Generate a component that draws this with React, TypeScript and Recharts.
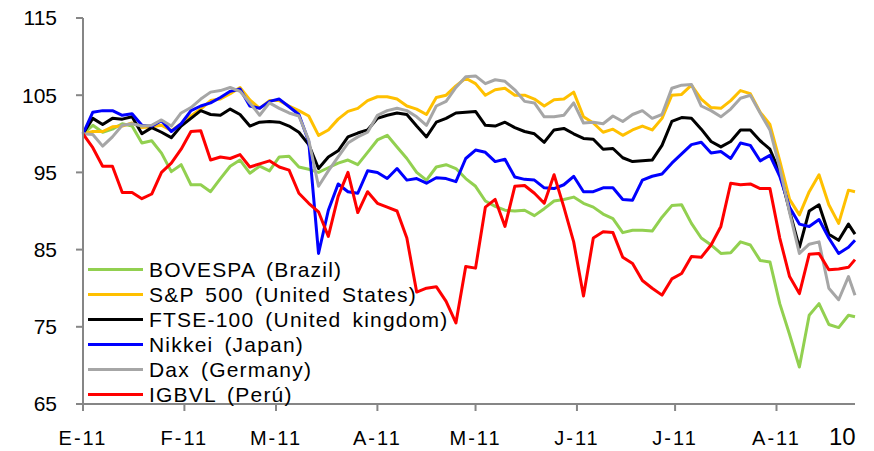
import { LineChart, Line, XAxis, YAxis } from "recharts";

// calendar days since 1 Jan 2011 (sampled every 3 days)
const days = [
  0, 3, 6, 9, 12, 15, 18, 21, 24, 27, 30, 33, 36, 39, 42, 45, 48, 51, 54, 57,
  60, 63, 66, 69, 72, 75, 78, 81, 84, 87, 90, 93, 96, 99, 102, 105, 108, 111, 114, 117,
  120, 123, 126, 129, 132, 135, 138, 141, 144, 147, 150, 153, 156, 159, 162, 165, 168, 171, 174, 177,
  180, 183, 186, 189, 192, 195, 198, 201, 204, 207, 210, 213, 216, 219, 222, 225, 228, 231, 234, 236,
];

const bovespa = [
  100, 101.1, 100.2, 100.6, 101.3, 101.0, 98.8, 99.1, 97.5, 95.1, 96.0, 93.4, 93.4, 92.5, 94.2, 95.8, 96.6, 94.9, 95.8, 95.2,
  97.0, 97.1, 95.7, 95.4, 95.0, 95.6, 96.2, 96.6, 96.0, 97.6, 99.2, 99.8, 98.3, 96.8, 95.0, 94.0, 95.7, 96.0, 95.5, 94.2,
  93.2, 91.3, 90.6, 90.1, 90.0, 90.1, 89.4, 90.3, 91.3, 91.5, 91.8, 91.0, 90.5, 89.6, 89.0, 87.2, 87.5, 87.5, 87.4, 89.2,
  90.7, 90.8, 88.4, 86.5, 85.6, 84.5, 84.6, 86.0, 85.6, 83.6, 83.4, 78.0, 74.0, 69.8, 76.5, 78.0, 75.3, 74.9, 76.5, 76.3,
];

const sp500 = [
  100, 100.3, 100.3, 100.9, 101.0, 101.4, 100.8, 100.9, 101.1, 100.4, 101.3, 102.3, 103.2, 104.3, 104.5, 105.2, 106.0, 104.4, 103.3, 104.3,
  104.3, 103.6, 103.0, 102.3, 99.8, 100.5, 101.9, 102.9, 103.3, 104.3, 104.8, 104.8, 104.5, 103.6, 103.2, 102.5, 104.7, 105.0, 106.2, 107.2,
  106.5, 105.0, 105.7, 105.9, 105.0, 105.0, 104.5, 103.6, 104.4, 104.5, 105.4, 102.2, 101.4, 100.2, 100.6, 99.8, 100.5, 101.0, 100.5, 102.0,
  105.0, 105.1, 106.3, 104.5, 103.4, 103.3, 104.3, 105.6, 105.2, 102.8, 101.2, 96.5, 91.5, 89.5, 92.5, 94.7, 90.8, 88.4, 92.7, 92.5,
];

const ftse100 = [
  100, 102.0, 101.2, 102.0, 101.9, 102.2, 100.0, 100.8, 100.2, 99.5, 101.0, 102.0, 103.0, 102.5, 102.4, 103.2, 102.5, 101.0, 101.5, 101.6,
  101.5, 101.0, 100.2, 98.6, 95.5, 97.0, 97.8, 99.6, 100.1, 100.5, 102.0, 102.4, 102.7, 102.5, 101.0, 99.6, 101.5, 102.0, 102.7, 102.8,
  102.9, 101.1, 101.0, 101.5, 100.8, 100.3, 100.0, 98.9, 100.5, 100.7, 100.0, 99.4, 99.3, 98.0, 98.1, 96.9, 96.4, 96.5, 96.6, 98.5,
  101.6, 102.1, 102.0, 100.6, 99.0, 98.3, 99.0, 100.5, 100.5, 99.1, 98.0, 95.0, 90.0, 85.3, 90.0, 90.8, 87.0, 86.2, 88.3, 87.0,
];

const nikkei = [
  100, 102.8, 103.0, 103.0, 102.4, 102.6, 101.1, 101.0, 101.7, 100.3, 101.3, 103.0, 103.6, 104.0, 104.7, 105.5, 105.8, 103.6, 103.3, 104.2,
  104.5, 103.5, 102.5, 99.0, 84.5, 90.1, 93.5, 92.5, 92.3, 95.2, 95.0, 94.2, 95.5, 94.0, 94.2, 93.6, 94.3, 94.2, 93.8, 96.8,
  97.9, 97.6, 96.4, 96.7, 94.4, 94.1, 94.0, 93.0, 92.9, 93.4, 94.5, 92.5, 92.5, 93.0, 93.0, 91.5, 91.4, 94.0, 94.5, 94.8,
  96.2, 97.4, 98.6, 98.9, 97.5, 97.7, 96.8, 98.8, 98.5, 96.5, 97.2, 94.5, 90.5, 88.3, 88.0, 88.9, 86.5, 84.5, 85.3, 86.2,
];

const dax = [
  100, 99.9, 98.4, 99.6, 101.1, 101.3, 101.0, 101.1, 101.8, 101.0, 102.7, 103.4, 104.5, 105.4, 105.6, 106.0, 105.5, 104.0, 102.4, 104.0,
  103.3, 102.7, 102.3, 99.2, 93.2, 95.2, 97.0, 98.8, 99.6, 100.2, 102.4, 103.0, 103.3, 103.0, 102.2, 101.1, 103.6, 104.2, 106.0, 107.4,
  107.5, 106.5, 107.0, 106.8, 105.7, 104.2, 104.0, 102.2, 102.2, 102.4, 104.0, 101.4, 101.5, 101.3, 102.3, 101.6, 102.5, 103.0, 102.0, 102.5,
  105.9, 106.3, 106.4, 103.6, 103.0, 102.2, 103.2, 104.6, 105.0, 102.7, 100.5, 95.6, 89.8, 84.5, 85.7, 86.0, 80.0, 78.5, 81.5, 79.1,
];

const igbvl = [
  100, 98.2, 95.8, 95.8, 92.4, 92.4, 91.6, 92.2, 95.0, 96.2, 98.0, 100.3, 100.4, 96.6, 97.0, 96.8, 97.3, 95.7, 96.1, 96.5,
  95.7, 95.3, 92.3, 91.0, 89.9, 86.7, 91.9, 95.0, 89.8, 92.5, 91.0, 90.5, 90.0, 86.5, 79.5, 80.0, 80.2, 78.3, 75.5, 82.8,
  82.6, 90.5, 91.5, 88.0, 93.2, 93.3, 92.3, 91.0, 94.7, 90.5, 86.0, 79.0, 86.5, 87.3, 87.2, 84.0, 83.2, 81.0, 80.0, 79.1,
  81.2, 81.9, 84.1, 84.0, 85.6, 88.0, 93.6, 93.4, 93.5, 92.9, 92.9, 86.5, 81.5, 79.3, 84.4, 84.5, 82.4, 82.5, 82.7, 83.7,
];

const monthTicks = [0, 31, 59, 90, 120, 151, 181, 212];
const monthLabels = ["E-11", "F-11", "M-11", "A-11", "M-11", "J-11", "J-11", "A-11"];
const yTicks = [65, 75, 85, 95, 105, 115];

const seriesKeys = ["bovespa", "sp500", "ftse100", "nikkei", "dax", "igbvl"];
const seriesNames = [
  "BOVESPA (Brazil)",
  "S&P 500 (United States)",
  "FTSE-100 (United kingdom)",
  "Nikkei (Japan)",
  "Dax (Germany)",
  "IGBVL (Perú)",
];
const seriesColors = ["#92D050", "#FFC000", "#000000", "#0000FF", "#A6A6A6", "#FF0000"];

const data = days.map((day, i) => ({
  day,
  bovespa: bovespa[i],
  sp500: sp500[i],
  ftse100: ftse100[i],
  nikkei: nikkei[i],
  dax: dax[i],
  igbvl: igbvl[i],
}));

const FONT = "Arial, 'Liberation Sans', sans-serif";
const AXIS_GRAY = "#868686";

export default function App() {
  return (
    <div style={{ position: "relative", width: 874, height: 451, fontFamily: FONT }}>
      <style>{"body{margin:0}"}</style>
      <LineChart
        width={874}
        height={451}
        data={data}
        margin={{ top: 18, right: 19, left: 23, bottom: 17 }}
      >
        <XAxis
          dataKey="day"
          type="number"
          domain={[0, 236]}
          ticks={monthTicks}
          interval={0}
          tickFormatter={(v: number) => monthLabels[monthTicks.indexOf(v)] ?? ""}
          height={30}
          tickSize={7}
          tickMargin={20}
          axisLine={{ stroke: AXIS_GRAY, strokeWidth: 2 }}
          tickLine={{ stroke: AXIS_GRAY, strokeWidth: 2 }}
          tick={{ fill: "#000", fontSize: 20, fontFamily: FONT, letterSpacing: 2 }}
        />
        <YAxis
          type="number"
          domain={[65, 115]}
          ticks={yTicks}
          interval={0}
          width={60}
          tickSize={7}
          tickMargin={19}
          axisLine={{ stroke: AXIS_GRAY, strokeWidth: 2 }}
          tickLine={{ stroke: AXIS_GRAY, strokeWidth: 2 }}
          tick={{ fill: "#000", fontSize: 21, fontFamily: FONT }}
        />
        {seriesKeys.map((key, i) => (
          <Line
            key={key}
            dataKey={key}
            name={seriesNames[i]}
            stroke={seriesColors[i]}
            strokeWidth={3}
            dot={false}
            activeDot={false}
            strokeLinejoin="round"
            isAnimationActive={false}
          />
        ))}
      </LineChart>

      {/* legend sits inside the plot, lower left */}
      <div style={{ position: "absolute", left: 88, top: 257 }}>
        {seriesNames.map((name, i) => (
          <div key={name} style={{ display: "flex", alignItems: "center", height: 25 }}>
            <div style={{ width: 55, height: 3, background: seriesColors[i] }} />
            <span
              style={{
                marginLeft: 6,
                fontSize: 21,
                letterSpacing: 1.2,
                wordSpacing: 4,
                color: "#000",
                lineHeight: "25px",
                whiteSpace: "nowrap",
              }}
            >
              {name}
            </span>
          </div>
        ))}
      </div>

      <div style={{ position: "absolute", left: 829, top: 427, fontSize: 24, lineHeight: "20px", color: "#000" }}>
        10
      </div>
    </div>
  );
}
